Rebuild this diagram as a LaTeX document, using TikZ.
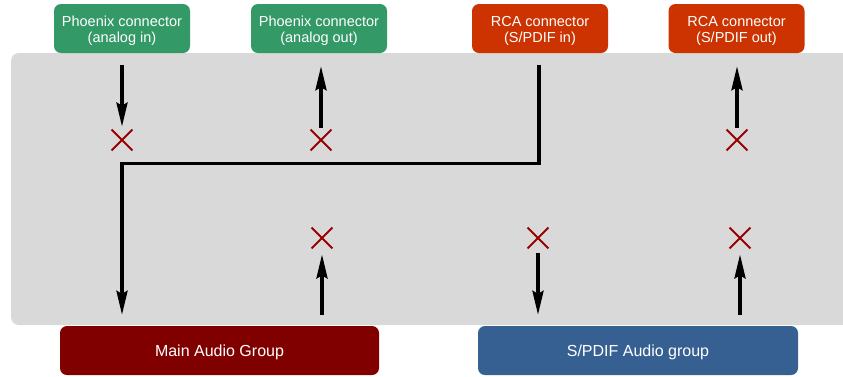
\documentclass[tikz,border=0pt]{standalone}
\usepackage{fontspec}
\setmainfont{Liberation Sans}
\usetikzlibrary{calc,arrows.meta,shapes.misc}
\definecolor{pgreen}{HTML}{339966}
\definecolor{rorange}{HTML}{CC3300}
\definecolor{mred}{HTML}{800000}
\definecolor{sblue}{HTML}{366092}
\definecolor{bggray}{HTML}{D9D9D9}
\definecolor{xred}{HTML}{990000}
\tikzset{
  conn/.style={rounded corners=7pt, text=white, minimum width=136pt, minimum height=49pt,
    inner sep=0pt, align=center, font=\fontsize{14.5}{16}\selectfont,
    text height=28.4pt, text depth=0pt},
  grp/.style={rounded corners=7pt, text=white, minimum width=319pt, minimum height=49pt,
    inner sep=0pt, align=center, font=\fontsize{16}{18}\selectfont,
    text height=14pt, text depth=1.6pt},
  xmark/.style={cross out, draw=xred, line width=1.8pt, minimum size=19pt, inner sep=0pt},
  arr/.style={line width=3.5pt, -{Stealth[length=24pt,width=11pt,inset=3pt]}},
  wire/.style={line width=3.5pt}
}
\begin{document}
\begin{tikzpicture}[x=1pt,y=-1pt]
\useasboundingbox (0,0) rectangle (843,376);
\fill[white] (0,0) rectangle (843,376);
\fill[bggray, rounded corners=8pt] (11,53) rectangle (870,325);
\node[conn, fill=pgreen] (g1) at (122,28.5) {Phoenix connector\\(analog in)};
\node[conn, fill=pgreen] (g2) at (319,28.5) {Phoenix connector\\(analog out)};
\node[conn, fill=rorange] (g3) at (540,28.5) {RCA connector\\(S/PDIF in)};
\node[conn, fill=rorange] (g4) at (736.5,28.5) {RCA connector\\(S/PDIF out)};
\node[grp, fill=mred] (main) at (219.5,350.5) {Main Audio Group};
\node[grp, fill=sblue, minimum width=320pt] (spdif) at (638,350.5) {S/PDIF Audio group};
\node[xmark] (x1) at (122,140) {};
\node[xmark] (x2) at (321,140) {};
\node[xmark] (x4) at (737,140) {};
\node[xmark] (x5) at (322,238) {};
\node[xmark] (x6) at (538,238) {};
\node[xmark] (x7) at (740,238) {};
% top arrows
\draw[arr] ($(g1.south)+(0,12)$) -- ($(x1.north)+(0,-3)$);
\draw[arr] ($(x2.north)+(0,-2)$) -- ($(x2.north |- g2.south)+(0,13)$);
\draw[arr] ($(x4.north)+(0,-2)$) -- ($(x4.north |- g4.south)+(0,13)$);
% L wire
\draw[wire, -{Stealth[length=24pt,width=11pt,inset=3pt]}] ($(g3.south)+(-1,12)$) |- ($(x1.south)+(0,13)$) -- ($(x1.south |- main.north)+(0,-11)$);
% bottom arrows
\draw[arr] ($(x5.south |- main.north)+(0,-11)$) -- ($(x5.south)+(0,6)$);
\draw[arr] ($(x6.south)+(0,5)$) -- ($(x6.south |- spdif.north)+(0,-11)$);
\draw[arr] ($(x7.south |- spdif.north)+(0,-11)$) -- ($(x7.south)+(0,6)$);
\end{tikzpicture}
\end{document}
